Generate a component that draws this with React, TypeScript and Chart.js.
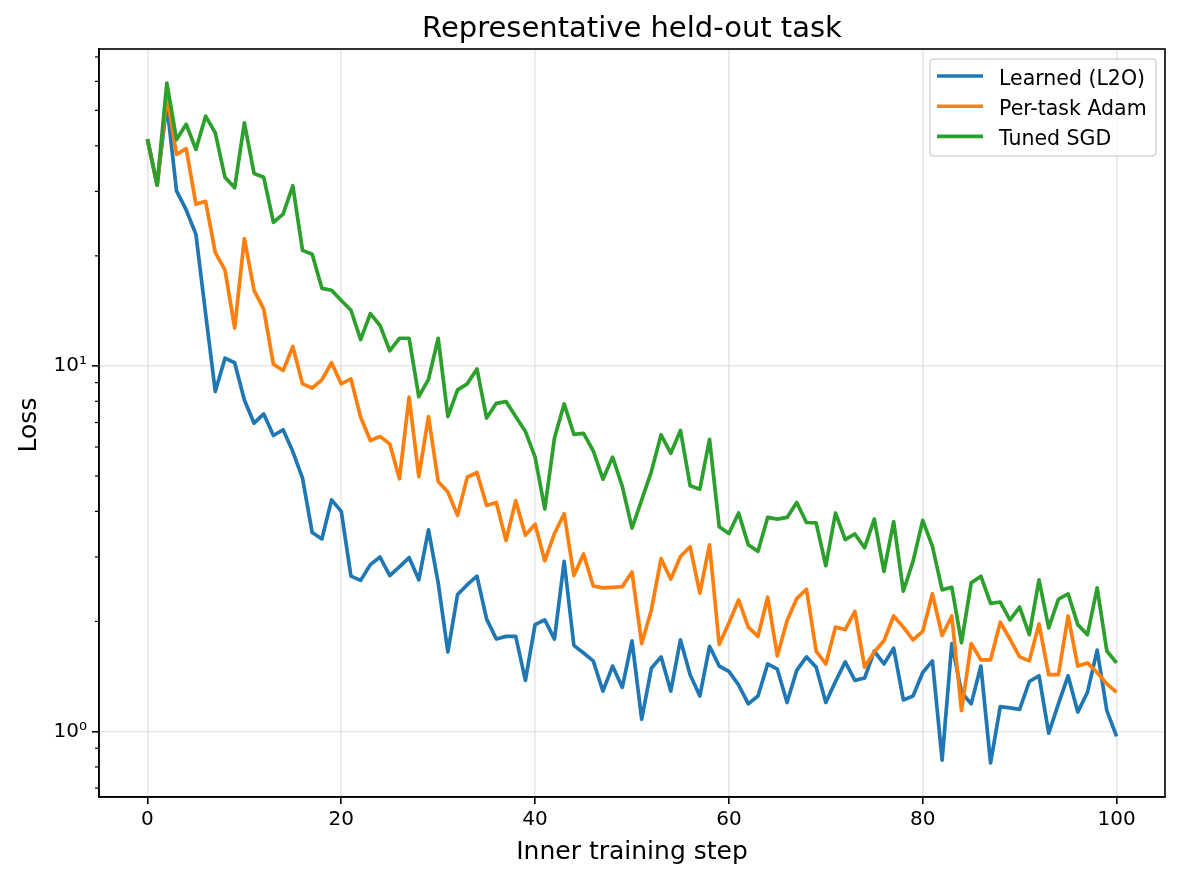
import React, { useEffect, useRef } from "react";
import { Chart, registerables } from "chart.js";

Chart.register(...registerables);

// ---- Data (loss per inner training step; index = step) ----
const learnedL2O = [
  41.7, 31.2, 52, 30.1, 26.7, 22.9, 13.9, 8.51, 10.5, 10.2,
  8.07, 6.97, 7.39, 6.45, 6.69, 5.83, 4.93, 3.5, 3.36, 4.3,
  4.0, 2.66, 2.59, 2.86, 3.0, 2.67, 2.82, 2.99, 2.6, 3.56,
  2.55, 1.65, 2.37, 2.52, 2.66, 2.03, 1.79, 1.82, 1.82, 1.38,
  1.96, 2.02, 1.79, 2.92, 1.72, 1.64, 1.56, 1.29, 1.51, 1.32,
  1.77, 1.08, 1.49, 1.6, 1.29, 1.78, 1.43, 1.25, 1.71, 1.51,
  1.46, 1.34, 1.19, 1.25, 1.53, 1.48, 1.2, 1.47, 1.6, 1.5,
  1.2, 1.37, 1.55, 1.38, 1.4, 1.66, 1.53, 1.69, 1.22, 1.25,
  1.45, 1.56, 0.835, 1.74, 1.28, 1.19, 1.51, 0.82, 1.17, 1.16,
  1.15, 1.37, 1.42, 0.99, 1.19, 1.42, 1.13, 1.28, 1.67, 1.14,
  0.97,
];
const perTaskAdam = [
  41.7, 31.2, 55, 37.9, 39.3, 27.7, 28.2, 20.4, 18.3, 12.7,
  22.3, 16.1, 14.3, 10.1, 9.71, 11.3, 8.93, 8.7, 9.16, 10.2,
  8.93, 9.21, 7.24, 6.25, 6.41, 6.12, 4.91, 8.21, 4.98, 7.27,
  4.83, 4.52, 3.9, 4.96, 5.11, 4.15, 4.23, 3.33, 4.28, 3.44,
  3.69, 2.93, 3.48, 3.94, 2.67, 3.06, 2.5, 2.47, 2.48, 2.49,
  2.73, 1.74, 2.15, 2.97, 2.61, 3.01, 3.2, 2.39, 3.24, 1.73,
  1.98, 2.29, 1.93, 1.82, 2.33, 1.61, 2.01, 2.31, 2.45, 1.66,
  1.53, 1.93, 1.9, 2.13, 1.5, 1.65, 1.77, 2.07, 1.93, 1.78,
  1.88, 2.38, 1.83, 2.07, 1.14, 1.74, 1.57, 1.57, 1.99, 1.79,
  1.6, 1.56, 1.97, 1.43, 1.43, 2.07, 1.51, 1.54, 1.45, 1.35,
  1.28,
];
const tunedSGD = [
  41.7, 31.2, 59.4, 41.6, 45.8, 39.1, 48.2, 43.4, 32.8, 30.7,
  46.2, 33.6, 32.8, 24.7, 26.0, 31.1, 20.7, 20.2, 16.3, 16.1,
  15.1, 14.2, 11.8, 13.9, 12.9, 11.0, 11.9, 11.9, 8.24, 9.19,
  11.9, 7.27, 8.6, 8.93, 9.81, 7.2, 7.9, 7.99, 7.27, 6.62,
  5.63, 4.06, 6.35, 7.87, 6.5, 6.54, 5.86, 4.9, 5.63, 4.68,
  3.6, 4.3, 5.14, 6.48, 5.77, 6.66, 4.7, 4.6, 6.3, 3.63,
  3.48, 3.96, 3.24, 3.11, 3.85, 3.81, 3.85, 4.23, 3.73, 3.72,
  2.84, 3.96, 3.35, 3.47, 3.18, 3.81, 2.74, 3.75, 2.42, 2.92,
  3.78, 3.21, 2.44, 2.48, 1.75, 2.55, 2.66, 2.24, 2.26, 2.02,
  2.19, 1.84, 2.6, 1.92, 2.3, 2.38, 1.96, 1.84, 2.47, 1.66,
  1.54,
];

const seriesLabels = ["Learned (L2O)", "Per-task Adam", "Tuned SGD"];
const seriesColors = ["#1f77b4", "#ff7f0e", "#2ca02c"];
const seriesValues = [learnedL2O, perTaskAdam, tunedSGD];

const xTicks = [0, 20, 40, 60, 80, 100];
const yTicks = [1, 10];
const yTickLabels = ["10\u2070", "10\u00b9"];
const yMinorTicks = [0.7, 0.8, 0.9, 2, 3, 4, 5, 6, 7, 8, 9, 20, 30, 40, 50, 60, 70];

const titleText = "Representative held-out task";
const xLabelText = "Inner training step";
const yLabelText = "Loss";

const FONT = '"DejaVu Sans", "Liberation Sans", sans-serif';

export default function App() {
  const canvasRef = useRef<HTMLCanvasElement | null>(null);

  useEffect(() => {
    document.body.style.margin = "0";
    const canvas = canvasRef.current;
    if (!canvas) return;

    // axis limits: 5% margins (log space for y), like matplotlib
    const all = seriesValues.flat();
    const lmin = Math.log10(Math.min(...all));
    const lmax = Math.log10(Math.max(...all));
    const span = lmax - lmin;
    const yMin = Math.pow(10, lmin - 0.05 * span);
    const yMax = Math.pow(10, lmax + 0.05 * span);
    const nSteps = learnedL2O.length - 1;
    const xMin = 0 - 0.05 * nSteps;
    const xMax = nSteps + 0.05 * nSteps;

    const decorations = {
      id: "decorations",
      afterDatasetsDraw(chart: any) {
        const { ctx, chartArea: a, scales } = chart;
        ctx.save();
        // frame (spines)
        ctx.strokeStyle = "#000";
        ctx.lineWidth = 1.6;
        ctx.strokeRect(a.left, a.top, a.right - a.left, a.bottom - a.top);
        // minor y ticks
        ctx.lineWidth = 1.2;
        const ys = scales.y;
        yMinorTicks.forEach((v) => {
          const py = ys.getPixelForValue(v);
          if (py >= a.top && py <= a.bottom) {
            ctx.beginPath();
            ctx.moveTo(a.left - 4, py);
            ctx.lineTo(a.left, py);
            ctx.stroke();
          }
        });
        // title
        ctx.fillStyle = "#000";
        ctx.textAlign = "center";
        ctx.textBaseline = "alphabetic";
        ctx.font = `29px ${FONT}`;
        ctx.fillText(titleText, (a.left + a.right) / 2, a.top - 12);
        // x label
        ctx.font = `25px ${FONT}`;
        ctx.fillText(xLabelText, (a.left + a.right) / 2, 859);
        // y label
        ctx.save();
        ctx.translate(35.5, (a.top + a.bottom) / 2 + 2);
        ctx.rotate(-Math.PI / 2);
        ctx.fillText(yLabelText, 0, 0);
        ctx.restore();

        // legend (upper right, inside axes)
        const lw = 226;
        const lh = 97;
        const lx = a.right - 9 - lw;
        const ly = a.top + 10;
        ctx.beginPath();
        const r = 4;
        ctx.moveTo(lx + r, ly);
        ctx.lineTo(lx + lw - r, ly);
        ctx.quadraticCurveTo(lx + lw, ly, lx + lw, ly + r);
        ctx.lineTo(lx + lw, ly + lh - r);
        ctx.quadraticCurveTo(lx + lw, ly + lh, lx + lw - r, ly + lh);
        ctx.lineTo(lx + r, ly + lh);
        ctx.quadraticCurveTo(lx, ly + lh, lx, ly + lh - r);
        ctx.lineTo(lx, ly + r);
        ctx.quadraticCurveTo(lx, ly, lx + r, ly);
        ctx.closePath();
        ctx.fillStyle = "rgba(255,255,255,0.8)";
        ctx.fill();
        ctx.strokeStyle = "rgba(204,204,204,0.8)";
        ctx.lineWidth = 1.5;
        ctx.stroke();

        ctx.textAlign = "left";
        ctx.textBaseline = "alphabetic";
        ctx.font = `20.5px ${FONT}`;
        seriesLabels.forEach((label, i) => {
          const rowY = ly + 17 + i * 30.2;
          ctx.strokeStyle = seriesColors[i];
          ctx.lineWidth = 3.6;
          ctx.lineCap = "butt";
          ctx.beginPath();
          ctx.moveTo(lx + 7, rowY);
          ctx.lineTo(lx + 53, rowY);
          ctx.stroke();
          ctx.fillStyle = "#000";
          ctx.fillText(label, lx + 69, rowY + 8.5);
        });
        ctx.restore();
      },
    };

    const datasets = seriesValues.map((vals, i) => ({
      label: seriesLabels[i],
      data: vals.map((v, step) => ({ x: step, y: v })),
      borderColor: seriesColors[i],
      backgroundColor: seriesColors[i],
      borderWidth: 3.7,
      pointRadius: 0,
      tension: 0,
      fill: false,
      borderJoinStyle: "round" as const,
      borderCapStyle: "butt" as const,
      order: seriesValues.length - i,
    }));

    const chart = new Chart(canvas, {
      type: "line",
      data: { datasets },
      options: {
        animation: false,
        responsive: false,
        devicePixelRatio: 1,
        layout: { padding: { top: 49, right: 16, left: 0, bottom: 0 } },
        plugins: {
          legend: { display: false },
          title: { display: false },
          tooltip: { enabled: false },
        },
        scales: {
          x: {
            type: "linear",
            min: xMin,
            max: xMax,
            afterBuildTicks: (s: any) => {
              s.ticks = xTicks.map((v) => ({ value: v }));
            },
            afterFit: (s: any) => {
              s.height = 83;
            },
            ticks: {
              color: "#000",
              font: { family: FONT, size: 20 },
              padding: 4,
              maxRotation: 0,
              callback: (v: any) => String(v),
            },
            grid: {
              color: "rgba(176,176,176,0.3)",
              lineWidth: 1.6,
              drawTicks: true,
              tickLength: 7,
              tickColor: "#000",
              tickWidth: 1.6,
            },
            border: { display: true, color: "#000", width: 1.6 },
          },
          y: {
            type: "logarithmic",
            min: yMin,
            max: yMax,
            afterBuildTicks: (s: any) => {
              s.ticks = yTicks.map((v) => ({ value: v }));
            },
            afterFit: (s: any) => {
              s.width = 99;
            },
            ticks: {
              color: "#000",
              font: { family: FONT, size: 20 },
              padding: 5,
              callback: (v: any) => {
                const idx = yTicks.indexOf(Number(v));
                return idx >= 0 ? yTickLabels[idx] : "";
              },
            },
            grid: {
              color: "rgba(176,176,176,0.3)",
              lineWidth: 1.6,
              drawTicks: true,
              tickLength: 7,
              tickColor: "#000",
              tickWidth: 1.6,
            },
            border: { display: true, color: "#000", width: 1.6 },
          },
        },
      },
      plugins: [decorations],
    } as any);

    return () => {
      chart.destroy();
    };
  }, []);

  return (
    <div style={{ width: 1181, height: 880, background: "#fff" }}>
      <canvas
        ref={canvasRef}
        width={1181}
        height={880}
        style={{ display: "block", width: 1181, height: 880 }}
      />
    </div>
  );
}
